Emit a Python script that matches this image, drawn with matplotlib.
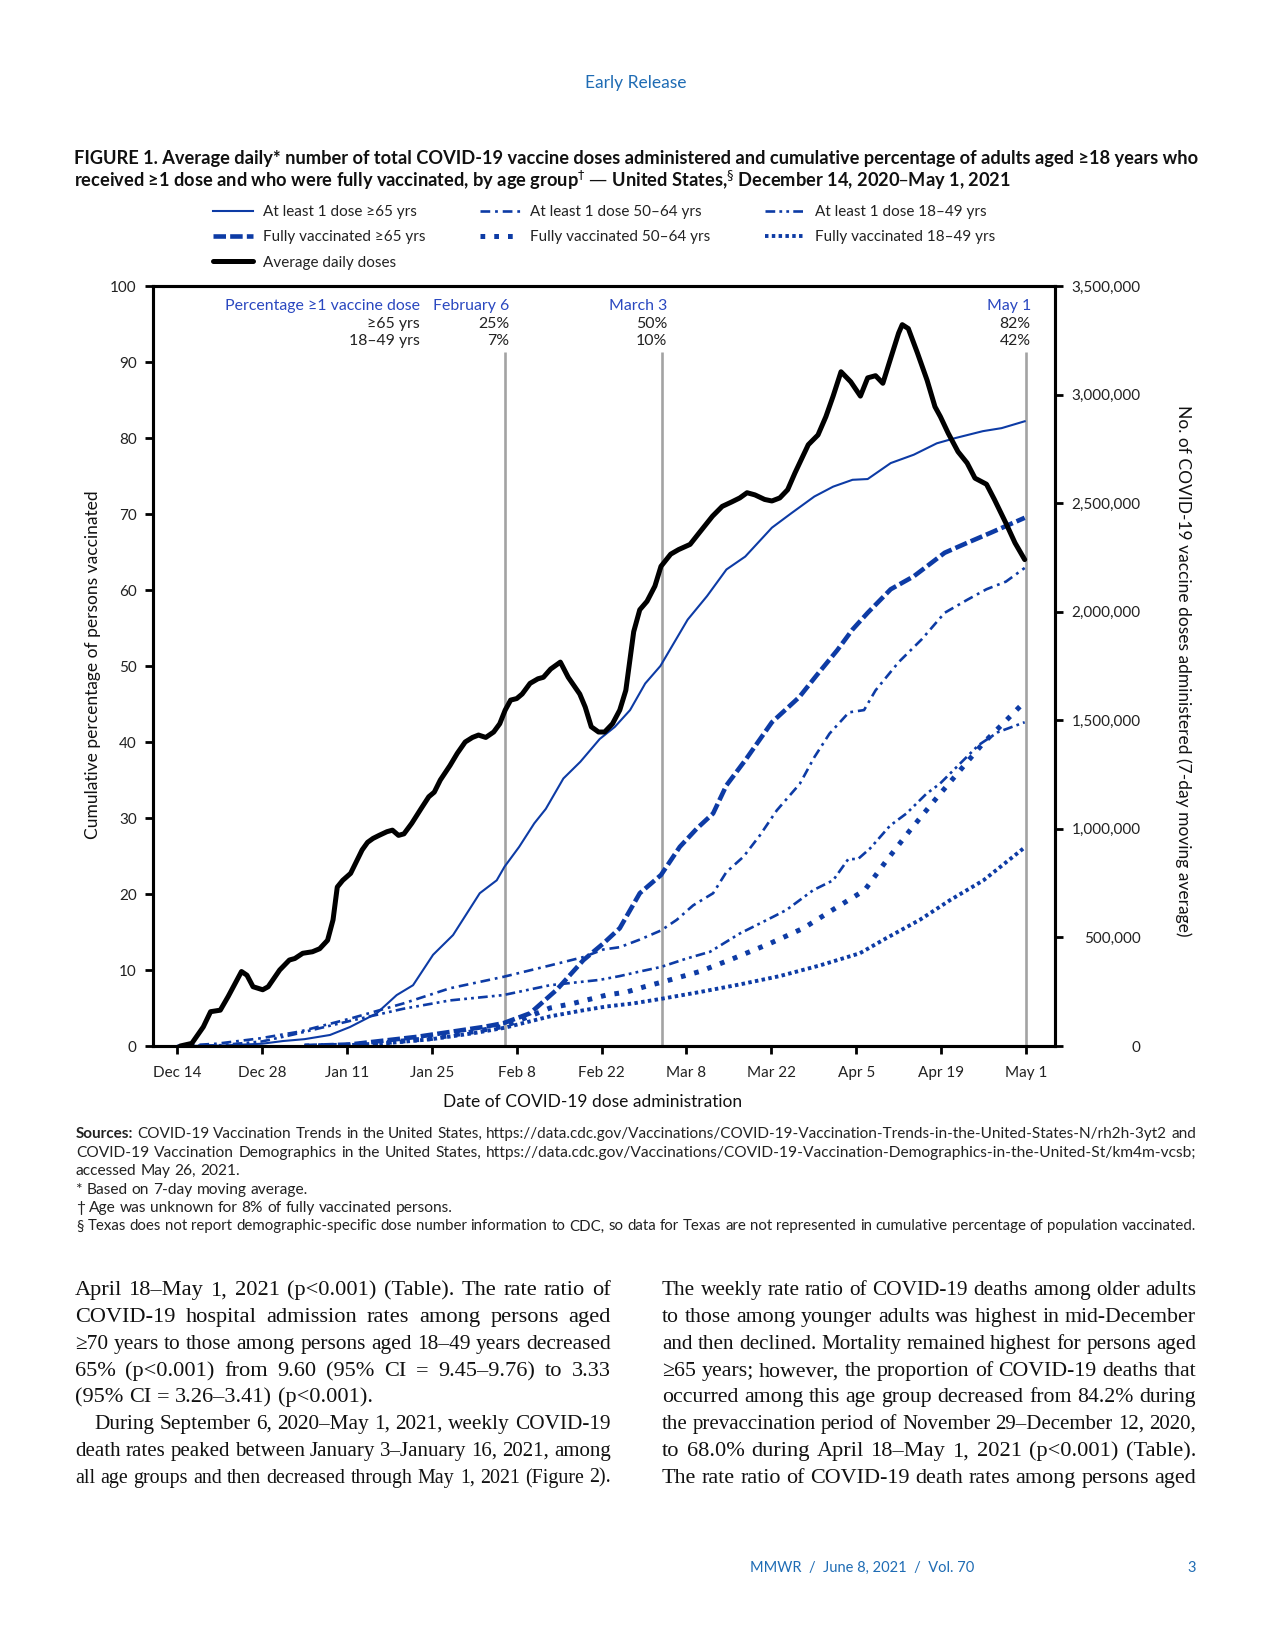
import numpy as np
import matplotlib.pyplot as plt
from matplotlib.ticker import FuncFormatter, MultipleLocator

plt.rcParams['font.family'] = ['Lato', 'DejaVu Sans']
plt.rcParams['lines.scale_dashes'] = False

# ---- data (x = days since Dec 14, 2020) ----
tick_labels = ['Dec 14', 'Dec 28', 'Jan 11', 'Jan 25', 'Feb 8', 'Feb 22',
               'Mar 8', 'Mar 22', 'Apr 5', 'Apr 19', 'May 1']

a65_days = [0, 7, 14, 17.4, 21, 25.2, 28.5, 32.9, 36.2, 38.9, 42.2, 45.5, 49.9, 52.7, 54, 56.4, 58.9,
            60.8, 63.7, 66.5, 69.7, 72.2, 74.7, 77.2, 79.7, 84.2, 87.4, 90.6, 93.7, 98.1, 101.3, 105.1,
            108.2, 111.4, 113.9, 117.7, 121.5, 125.3, 128.4, 132.9, 136.0, 139.8]
a65 = [0, 0.05, 0.3, 0.65, 0.9, 1.45, 2.5, 4.3, 6.7, 8.0, 12.0, 14.6, 20.1, 21.8, 23.6, 26.2, 29.3,
       31.2, 35.2, 37.4, 40.4, 42.0, 44.2, 47.7, 50.0, 56.1, 59.2, 62.7, 64.4, 68.2, 70.1, 72.3,
       73.6, 74.5, 74.6, 76.7, 77.8, 79.3, 80.0, 80.9, 81.3, 82.2]

a50_days = [0, 6.5, 13.6, 20.2, 28.5, 37.3, 45, 53.8, 61.5, 67, 70.3, 73, 76.3, 79.8, 82.4, 85.1, 88.4,
            90.6, 93.4, 96.1, 98.9, 102.7, 105.1, 107.6, 110.8, 113.3, 115.2, 119, 122.8, 126.6, 130.3,
            133.5, 136.7, 139.8]
a50 = [0, 0.3, 1.0, 1.9, 3.6, 5.6, 7.6, 9.1, 10.6, 11.7, 12.7, 13.0, 14.0, 15.2, 16.6, 18.5, 20.1,
       22.9, 24.9, 27.7, 31.0, 34.5, 38.0, 41.1, 43.9, 44.2, 46.8, 50.5, 53.5, 57.0, 58.7, 60.1,
       61.1, 62.9]

a18_days = [0, 7, 14, 19.1, 28.5, 37.3, 45, 53.8, 61.5, 69.7, 73, 76.3, 79.8, 84, 87.9, 92.8, 98.3,
            100.5, 104.9, 108.2, 110.7, 112.3, 114.3, 117.6, 120.3, 123.6, 125.8, 132.2, 135.4, 139.8]
a18 = [0, 0.1, 0.6, 1.5, 3.3, 4.9, 6.0, 6.7, 8.0, 8.7, 9.2, 9.8, 10.4, 11.5, 12.4, 14.8, 17.0,
       17.9, 20.5, 21.8, 24.6, 24.6, 26.0, 29.0, 30.6, 33.2, 34.5, 39.6, 41.3, 42.6]

f65_days = [21, 28.5, 39.5, 50.5, 53.8, 58.2, 62.6, 67, 70.3, 73, 76.3, 79.8, 82.9, 85.7, 88.4, 90.6,
            93.7, 98.1, 102.6, 105.4, 108.9, 111.4, 113.9, 117.7, 121.5, 126.6, 130.3, 134.1, 139.8]
f65 = [0, 0.2, 1.2, 2.5, 3.0, 4.3, 7.4, 11.3, 13.5, 15.5, 20.1, 22.5, 26.2, 28.6, 30.6, 34.3,
       37.6, 42.6, 45.9, 48.7, 52.1, 54.8, 57.0, 60.1, 61.8, 64.9, 66.2, 67.5, 69.5]

f50_days = [21, 28, 35, 42, 49, 54, 61.5, 65.3, 70.8, 74.1, 77.1, 80.4, 86.2, 91.7, 97.8, 103.3, 108.5,
            113.4, 117, 120.9, 124.7, 132.9, 136.7, 139.8]
f50 = [0, 0.1, 0.5, 1.0, 1.9, 2.6, 5.0, 5.6, 6.7, 7.1, 7.8, 8.5, 9.8, 11.5, 13.5, 15.5, 18.1,
       20.5, 24.4, 28.4, 32.1, 39.8, 42.8, 45.3]

f18_days = [21, 28, 35, 42, 49, 54, 61.5, 67, 70.8, 75.2, 79.8, 86.2, 92.8, 99.4, 106, 112.6, 117,
            122.5, 127.5, 133, 139.6]
f18 = [0, 0.1, 0.4, 0.9, 1.7, 2.4, 3.9, 4.7, 5.2, 5.6, 6.2, 7.1, 8.1, 9.2, 10.6, 12.2, 14.2,
       16.6, 19.2, 21.8, 26.0]

dose_days = [0.5, 2.4, 4.3, 5.5, 7.1, 8.4, 10.6, 11.5, 12.5, 14.1, 15, 16.9, 18.5, 19.4, 20.7, 22.3, 23.5,
             24.8, 25.7, 26.4, 27.3, 28.6, 30.5, 31.4, 32.3, 33.3, 34.6, 35.5, 36.5, 37.4, 38.7, 40.2,
             41.5, 42.4, 43.4, 45.0, 46.2, 47.5, 48.7, 49.7, 50.9, 52.2, 53.2, 54.1, 55.0, 56.0, 56.9,
             58.2, 59.5, 60.4, 61.6, 63.2, 64.5, 66.4, 67.3, 68.3, 69.5, 70.5, 71.8, 73.0, 74.0, 75.3,
             76.3, 77.5, 78.8, 79.8, 81.4, 82.7, 84.6, 86.1, 88.3, 89.9, 91.5, 92.8, 94.0, 95.3, 96.9,
             98.1, 99.4, 100.7, 101.9, 103.2, 104.1, 105.7, 107.0, 108.2, 109.5, 111.1, 112.7, 113.9,
             115.2, 116.4, 117.7, 119.0, 119.6, 120.6, 122.1, 123.7, 125.0, 125.9, 127.2, 128.8, 130.3,
             131.6, 133.5, 134.8, 136.7, 138.2, 139.8]
doses = [0, 12000, 88000, 158000, 165000, 228000, 343000, 326000, 273000, 259000, 273000, 350000,
         396000, 403000, 427000, 434000, 448000, 487000, 581000, 732000, 763000, 795000, 903000,
         938000, 956000, 970000, 987000, 994000, 970000, 977000, 1026000, 1092000, 1148000, 1169000,
         1225000, 1292000, 1348000, 1400000, 1421000, 1432000, 1421000, 1446000, 1484000, 1547000,
         1593000, 1600000, 1621000, 1670000, 1691000, 1698000, 1736000, 1768000, 1698000, 1621000,
         1561000, 1470000, 1446000, 1446000, 1484000, 1547000, 1638000, 1908000, 2009000, 2048000,
         2118000, 2209000, 2265000, 2286000, 2310000, 2363000, 2440000, 2485000, 2506000, 2524000,
         2548000, 2538000, 2517000, 2510000, 2524000, 2562000, 2639000, 2716000, 2769000, 2814000,
         2898000, 2993000, 3105000, 3059000, 2993000, 3077000, 3087000, 3052000, 3168000, 3283000,
         3322000, 3304000, 3192000, 3066000, 2944000, 2898000, 2821000, 2737000, 2685000, 2615000,
         2587000, 2517000, 2408000, 2317000, 2240000]

marker_days = [54, 80, 140]
marker_labels = ['February 6', 'March 3', 'May 1']
pct_65 = ['25%', '50%', '82%']
pct_18 = ['7%', '10%', '42%']

BLUE = '#0d3ba5'
HEAD_BLUE = '#1f6cb4'
NOTE_BLUE = '#2a48c0'

W, H = 1275, 1650
fig = plt.figure(figsize=(W / 100, H / 100), dpi=100)
renderer = fig.canvas.get_renderer()


def fx(x):
    return x / W


def fy(y):
    return 1 - y / H


def text_width(s, size, family=None, weight='normal'):
    kw = {'family': family} if family else {}
    t = fig.text(0, 0, s, fontsize=size, fontweight=weight, **kw)
    w = t.get_window_extent(renderer).width
    t.remove()
    return w


def put_line(x, y, s, size, width=None, family=None, weight='normal', color='#222222',
             first_weight=None, cap=0.36):
    # y is the visual centre of the capitals; words are set on a common baseline
    words = s.split(' ')
    wts = [weight] * len(words)
    if first_weight:
        wts[0] = first_weight
    kw = {'family': family} if family else {}
    ws = [text_width(w, size, family, wt) for w, wt in zip(words, wts)]
    space = text_width('x x', size, family) - text_width('xx', size, family)
    natural = sum(ws) + space * (len(words) - 1)
    if width is not None and natural > width:
        size = size * width / natural
        ws = [text_width(w, size, family, wt) for w, wt in zip(words, wts)]
        space = text_width('x x', size, family) - text_width('xx', size, family)
    gap = space
    if width is not None and len(words) > 1:
        gap = (width - sum(ws)) / (len(words) - 1)
    base = y + cap * size * 100 / 72
    cx = x
    for w, wt, wd in zip(words, wts, ws):
        fig.text(fx(cx), fy(base), w, fontsize=size, fontweight=wt, color=color,
                 va='baseline', ha='left', **kw)
        cx += wd + gap


# ---- page header ----
fig.text(fx(636), fy(83), 'Early Release', fontsize=12.5, color=HEAD_BLUE, ha='center', va='center')

title1 = ('FIGURE 1. Average daily* number of total COVID-19 vaccine doses administered and cumulative '
          'percentage of adults aged \u226518 years who')
title2 = ('received \u22651 dose and who were fully vaccinated, by age group$^{\\dagger}$ \u2014 United '
          'States,$^{\\S}$ December 14, 2020\u2013May 1, 2021')
tsize = 12 * 1120 / text_width(title1, 12, weight='bold')
fig.text(fx(74), fy(157), title1, fontsize=tsize, fontweight='bold', color='#111111',
         va='center_baseline', ha='left')
fig.text(fx(74), fy(178), title2, fontsize=tsize, fontweight='bold', color='#111111',
         va='center_baseline', ha='left')

# ---- chart ----
ax = fig.add_axes([fx(153), fy(1046), (1055 - 153) / W, (1046 - 286) / H])
ax2 = ax.twinx()

ax.vlines(marker_days, 0, 91.3, color='#a3a3a3', lw=1.9, zorder=1)

l1, = ax.plot(a65_days, a65, color=BLUE, lw=1.5, label='At least 1 dose \u226565 yrs')
l2, = ax.plot(a50_days, a50, color=BLUE, lw=1.9, ls=(0, (7, 3.5, 2, 3.5)),
              label='At least 1 dose 50\u201364 yrs')
l3, = ax.plot(a18_days, a18, color=BLUE, lw=1.9, ls=(0, (7, 3, 2, 3, 2, 3)),
              label='At least 1 dose 18\u201349 yrs')
l4, = ax.plot(f65_days, f65, color=BLUE, lw=3.3, ls=(0, (9, 3)), label='Fully vaccinated \u226565 yrs')
l5, = ax.plot(f50_days, f50, color=BLUE, lw=3.6, ls=(0, (3.4, 6.5)), label='Fully vaccinated 50\u201364 yrs')
l6, = ax.plot(f18_days, f18, color=BLUE, lw=2.8, ls=(0, (2.5, 2.4)), label='Fully vaccinated 18\u201349 yrs')
l7, = ax2.plot(dose_days, doses, color='black', lw=3.6, solid_capstyle='round', label='Average daily doses')

ax.set_xlim(-4, 144.8)
ax.set_ylim(0, 100)
ax2.set_ylim(0, 3500000)
ax.set_xticks(np.arange(len(tick_labels)) * 14)
ax.set_xticklabels(tick_labels)
ax.yaxis.set_major_locator(MultipleLocator(10))
ax2.yaxis.set_major_locator(MultipleLocator(500000))
ax2.yaxis.set_major_formatter(FuncFormatter(lambda v, p: f'{v:,.0f}'))

for a in (ax, ax2):
    for sp in a.spines.values():
        sp.set_linewidth(2.2)
        sp.set_color('black')
ax.tick_params(axis='x', direction='out', length=5.8, width=2, labelsize=11, pad=8.5,
               labelcolor='#222222')
ax.tick_params(axis='y', direction='out', length=5.8, width=2, labelsize=11, pad=6,
               labelcolor='#222222')
ax2.tick_params(axis='y', direction='out', length=5.8, width=2, labelsize=11, pad=56,
                labelcolor='#222222')
for lab in ax2.get_yticklabels():
    lab.set_ha('right')

ax.set_ylabel('Cumulative percentage of persons vaccinated', fontsize=12.5, va='center',
              color='#111111')
ax.yaxis.set_label_coords(-0.067, 0.502)
ax.set_xlabel('Date of COVID-19 dose administration', fontsize=12.5, va='center', color='#111111')
ax.xaxis.set_label_coords(0.487, -0.074)
ax2.set_ylabel('No. of COVID-19 vaccine doses administered (7-day moving average)', fontsize=12.5,
               rotation=270, va='center', ha='center', rotation_mode='anchor', color='#111111')
ax2.yaxis.set_label_coords(1.142, 0.494)

# annotations above the marker lines
row_y = [97.4, 95.0, 92.7]
ax.annotate('Percentage \u22651 vaccine dose', (40, row_y[0]), ha='right', va='center', fontsize=11.4,
            color=NOTE_BLUE)
ax.annotate('\u226565 yrs', (40, row_y[1]), ha='right', va='center', fontsize=11.4, color='#222222')
ax.annotate('18\u201349 yrs', (40, row_y[2]), ha='right', va='center', fontsize=11.4, color='#222222')
for d, lab, p1, p2 in zip(marker_days, marker_labels, pct_65, pct_18):
    for yy, s, c in zip(row_y, [lab, p1, p2], [NOTE_BLUE, '#222222', '#222222']):
        ax.annotate(s, (d, yy), xytext=(3.5, 0), textcoords='offset points', ha='right', va='center',
                    fontsize=11.4, color=c)

# legend (columns filled top to bottom)
handles = [l1, l4, l7, l2, l5, l3, l6]
fig.legend(handles, [h.get_label() for h in handles], ncol=3, loc='upper left',
           bbox_to_anchor=(fx(213), fy(205)), frameon=False, fontsize=11, borderpad=0,
           handlelength=2.6, handletextpad=0.65, columnspacing=3.6, labelspacing=0.74,
           borderaxespad=0, labelcolor='#222222')

# ---- sources / footnotes ----
src = [
    'Sources: COVID-19 Vaccination Trends in the United States, '
    'https://data.cdc.gov/Vaccinations/COVID-19-Vaccination-Trends-in-the-United-States-N/rh2h-3yt2 and',
    'COVID-19 Vaccination Demographics in the United States, '
    'https://data.cdc.gov/Vaccinations/COVID-19-Vaccination-Demographics-in-the-United-St/km4m-vcsb;',
    'accessed May 26, 2021.',
    '* Based on 7-day moving average.',
    '\u2020 Age was unknown for 8% of fully vaccinated persons.',
    '\u00a7 Texas does not report demographic-specific dose number information to CDC, so data for Texas '
    'are not represented in cumulative percentage of population vaccinated.',
]
src_y = [1132, 1151, 1169, 1188, 1206, 1225]
ssize = 10 * 232 / text_width(src[3], 10)
for i, (s, yy) in enumerate(zip(src, src_y)):
    full = 1196 - 76 if i in (0, 1, 5) else None
    put_line(76, yy, s, ssize, width=full, first_weight='bold' if i == 0 else None)

# ---- body text ----
left_col = [
    ('April 18\u2013May 1, 2021 (p<0.001) (Table). The rate ratio of', True),
    ('COVID-19 hospital admission rates among persons aged', True),
    ('\u226570 years to those among persons aged 18\u201349 years decreased', True),
    ('65% (p<0.001) from 9.60 (95% CI = 9.45\u20139.76) to 3.33', True),
    ('(95% CI = 3.26\u20133.41) (p<0.001).', False),
    ('During September 6, 2020\u2013May 1, 2021, weekly COVID-19', True),
    ('death rates peaked between January 3\u2013January 16, 2021, among', True),
    ('all age groups and then decreased through May 1, 2021 (Figure 2).', True),
]
right_col = [
    'The weekly rate ratio of COVID-19 deaths among older adults',
    'to those among younger adults was highest in mid-December',
    'and then declined. Mortality remained highest for persons aged',
    '\u226565 years; however, the proportion of COVID-19 deaths that',
    'occurred among this age group decreased from 84.2% during',
    'the prevaccination period of November 29\u2013December 12, 2020,',
    'to 68.0% during April 18\u2013May 1, 2021 (p<0.001) (Table).',
    'The rate ratio of COVID-19 death rates among persons aged',
]
body_y = [1288, 1315, 1342, 1369, 1395, 1422, 1449, 1476]
SERIF = 'Liberation Serif'
bsize = 14 * 299 / text_width(left_col[4][0], 14, SERIF)
for i, ((s, just), yy) in enumerate(zip(left_col, body_y)):
    x0 = 94 if i == 5 else 75
    put_line(x0, yy, s, bsize, width=(611 - x0) if just else None, family=SERIF, color='#111111',
             cap=0.33)
for s, yy in zip(right_col, body_y):
    put_line(662, yy, s, bsize, width=1196 - 662, family=SERIF, color='#111111', cap=0.33)

# ---- page footer ----
fig.text(fx(974), fy(1568), 'MMWR  /  June 8, 2021  /  Vol. 70', fontsize=10.5, color=HEAD_BLUE,
         ha='right', va='center')
fig.text(fx(1196), fy(1568), '3', fontsize=10.5, color=HEAD_BLUE, ha='right', va='center')

fig.savefig('out.png', dpi=100)
